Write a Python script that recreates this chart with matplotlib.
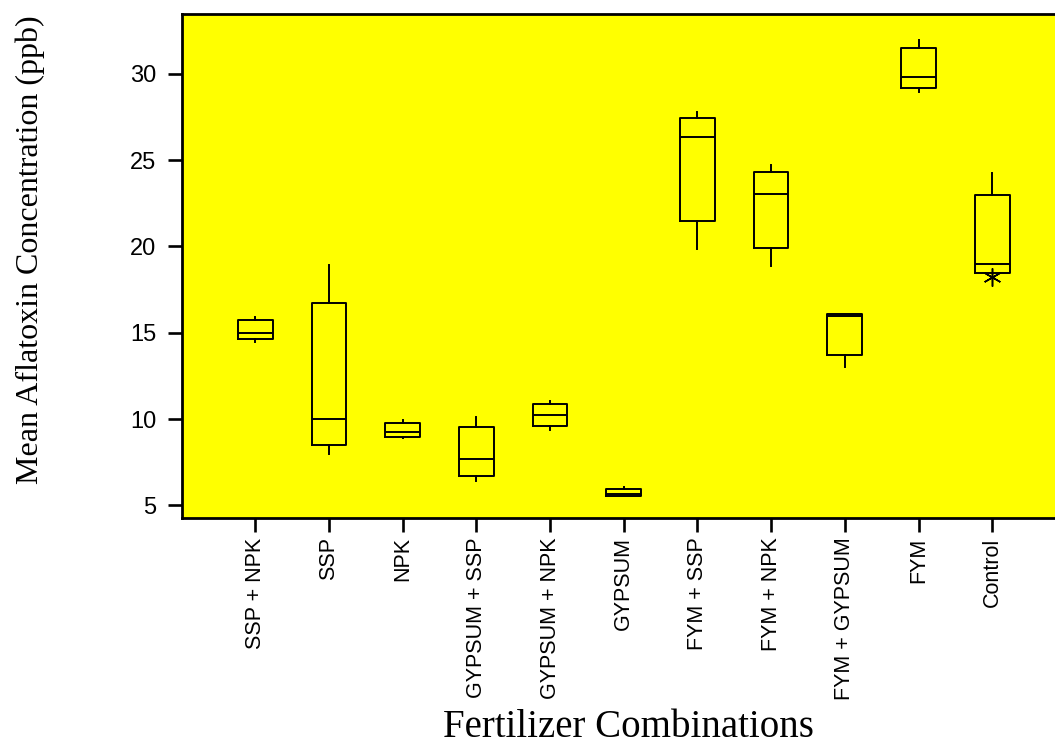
import matplotlib
matplotlib.use("Agg")
import matplotlib.pyplot as plt
from matplotlib import font_manager

# ---- data ----
categories = ["SSP + NPK", "SSP", "NPK", "GYPSUM + SSP", "GYPSUM + NPK", "GYPSUM",
              "FYM + SSP", "FYM + NPK", "FYM + GYPSUM", "FYM", "Control"]
whisker_low = [14.47, 7.99, 8.88, 6.42, 9.39, 5.54, 19.84, 18.86, 13.00, 28.92, 18.47]
q1 = [14.61, 8.51, 8.96, 6.72, 9.59, 5.54, 21.48, 19.92, 13.73, 29.15, 18.47]
median = [14.96, 9.98, 9.24, 7.69, 10.21, 5.65, 26.34, 23.04, 15.96, 29.81, 19.00]
q3 = [15.74, 16.72, 9.78, 9.55, 10.86, 5.93, 27.45, 24.31, 16.11, 31.50, 23.00]
whisker_high = [15.93, 18.92, 9.92, 10.13, 11.03, 6.08, 27.80, 24.72, 16.11, 31.98, 24.27]
outliers = [[], [], [], [], [], [], [], [], [], [], [18.22]]
yticks = [5, 10, 15, 20, 25, 30]

# ---- fonts ----
def has_font(name):
    try:
        font_manager.findfont(font_manager.FontProperties(family=name),
                              fallback_to_default=False)
        return True
    except Exception:
        return False

narrow = has_font("Liberation Sans Narrow")
xtick_family = "Liberation Sans Narrow" if narrow else "Liberation Sans"
xtick_size = 18.5 if narrow else 15.5

W, H = 1055, 747
fig = plt.figure(figsize=(W / 100, H / 100), dpi=100)
left_px, top_px, bottom_px = 181.5, 14, 518
ax = fig.add_axes([left_px / W, 1 - bottom_px / H, 1 - left_px / W, (bottom_px - top_px) / H])
ax.set_facecolor("#FFFF00")

stats = []
for i, name in enumerate(categories):
    stats.append(dict(label=name, whislo=whisker_low[i], q1=q1[i], med=median[i],
                      q3=q3[i], whishi=whisker_high[i], fliers=outliers[i]))

positions = list(range(1, len(categories) + 1))
lw = 1.4
ax.bxp(stats, positions=positions, widths=0.47, showcaps=False, showfliers=True,
       boxprops=dict(color="black", linewidth=lw),
       whiskerprops=dict(color="black", linewidth=lw),
       medianprops=dict(color="black", linewidth=lw),
       flierprops=dict(marker=(6, 2, 0), markersize=13, markeredgecolor="black",
                       markerfacecolor="black", markeredgewidth=1.1, linestyle="none"))

ax.set_xlim(0, (W - left_px) / 73.7)
ax.set_ylim(4.27, 33.46)
ax.set_yticks(yticks)
ax.set_yticklabels([str(t) for t in yticks], family="Liberation Sans", fontsize=17)
ax.set_xticks(positions)
ax.set_xticklabels(categories, rotation=90, family=xtick_family, fontsize=xtick_size,
                   va="top", ha="center")

ax.tick_params(axis="both", direction="out", length=10, width=1.9, color="black")
ax.tick_params(axis="y", pad=8)
ax.tick_params(axis="x", pad=4)

for side in ["left", "top", "bottom"]:
    ax.spines[side].set_linewidth(2.0)
    ax.spines[side].set_color("black")
ax.spines["right"].set_visible(False)

fig.text(30 / W, 1 - 250 / H, "Mean Aflatoxin Concentration (ppb)", rotation=90,
         family="Liberation Serif", fontsize=23, ha="center", va="center")
fig.text(628.5 / W, 1 - 737 / H, "Fertilizer Combinations",
         family="Liberation Serif", fontsize=28, ha="center", va="baseline")

fig.savefig("out.png", dpi=100, facecolor="white")
